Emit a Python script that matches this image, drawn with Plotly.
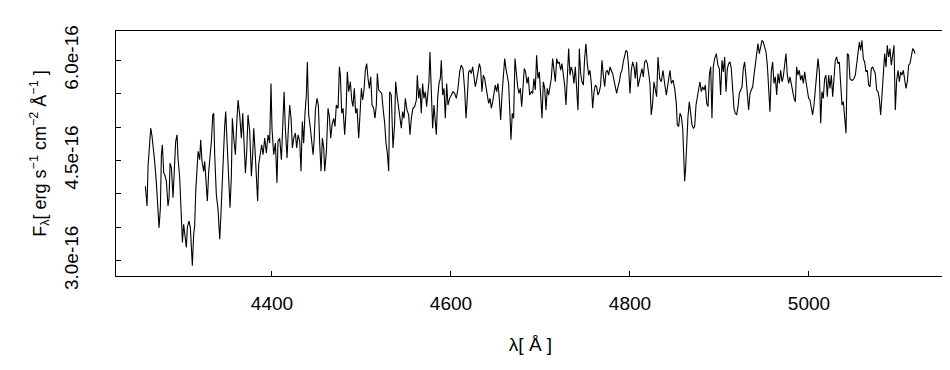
import plotly.graph_objects as go

# Wavelength (Angstrom) and flux (1e-16 erg s^-1 cm^-2 A^-1)
wave_a = [
    4258.5, 4260.4, 4261.5, 4263.4, 4264.5, 4266.0, 4267.1, 4268.9, 4270.8, 4272.7,
    4273.8, 4275.3, 4276.4, 4277.5, 4279.0, 4280.1, 4282.0, 4283.8, 4285.0, 4286.1,
    4287.6, 4289.4, 4290.5, 4292.4, 4293.9, 4295.0, 4296.9, 4298.7, 4299.9, 4301.3,
    4302.5, 4304.3, 4305.4, 4307.3, 4308.8, 4309.9, 4311.0, 4312.5, 4313.6, 4314.8,
    4316.2, 4317.4, 4319.2, 4320.3, 4321.8, 4323.7, 4324.8, 4326.7, 4327.8, 4329.3,
    4330.8, 4332.3, 4333.8, 4334.9, 4336.0, 4337.8, 4339.7, 4341.6, 4342.7, 4344.2,
    4345.7, 4347.2, 4348.3, 4349.8, 4351.6, 4353.1, 4354.6, 4355.7, 4357.6, 4359.1,
    4360.6, 4362.1, 4363.9, 4365.8, 4367.3, 4368.8, 4370.3, 4371.7, 4373.2, 4375.1,
    4377.0, 4378.4, 4379.6, 4381.1, 4382.5, 4384.0, 4385.1, 4387.0, 4388.5, 4390.0,
    4391.9, 4393.7, 4395.6, 4397.4, 4398.9, 4400.0, 4401.9, 4403.8, 4405.6, 4406.7,
    4408.6, 4410.5, 4412.0, 4413.5, 4414.9, 4416.8, 4418.3, 4419.8, 4421.3, 4422.8,
    4424.3, 4426.1, 4427.6, 4429.1, 4431.0, 4432.4, 4433.9, 4435.4, 4436.9, 4438.4,
    4439.5, 4441.0, 4442.9, 4444.4, 4445.9, 4447.0, 4448.5, 4450.3, 4451.8, 4453.3,
    4454.8, 4456.3, 4457.8, 4458.9, 4460.8, 4462.6, 4464.1, 4465.6, 4467.1, 4468.9,
    4470.4, 4471.9, 4473.8, 4475.3, 4476.4, 4477.9, 4479.4, 4481.2, 4482.7, 4484.2,
    4485.7, 4487.6, 4489.1, 4490.5, 4492.0, 4493.5, 4495.0, 4496.9, 4498.4, 4499.9,
    4501.3, 4502.8, 4504.3, 4505.8, 4507.3, 4508.8, 4510.3, 4511.8, 4513.6, 4515.1,
    4516.6, 4517.7, 4519.2, 4521.1, 4522.6, 4524.1, 4525.9, 4527.4, 4528.9, 4530.4,
]
flux_a = [
    4.115, 3.818, 4.413, 4.760, 4.983, 4.859, 4.661, 4.487, 4.165, 3.669,
    3.495, 3.793, 4.586, 4.735, 4.314, 4.289, 4.190, 3.818, 3.942, 4.462,
    4.388, 3.942, 4.214, 4.785, 4.884, 4.537, 4.239, 3.495, 3.272, 3.545,
    3.421, 3.198, 3.495, 3.594, 3.495, 3.049, 2.925, 3.396, 3.520, 4.041,
    4.289, 4.636, 4.512, 4.810, 4.487, 4.338, 4.487, 4.115, 3.892, 4.338,
    4.537, 4.785, 5.182, 5.206, 4.586, 3.991, 3.768, 3.322, 3.619, 4.090,
    4.686, 5.033, 5.231, 4.785, 4.388, 3.793, 4.264, 5.132, 4.785, 4.586,
    5.058, 5.405, 5.182, 4.834, 5.206, 4.735, 4.314, 4.611, 5.182, 4.934,
    4.264, 4.586, 4.983, 4.636, 4.214, 3.892, 4.438, 4.611, 4.735, 4.586,
    4.834, 4.611, 4.884, 4.760, 5.653, 4.983, 4.586, 4.760, 4.165, 4.785,
    4.834, 4.512, 5.058, 5.529, 4.983, 4.537, 4.983, 5.330, 5.132, 4.686,
    4.834, 4.909, 4.686, 4.884, 4.785, 4.338, 5.082, 4.760, 5.206, 5.479,
    5.975, 5.182, 4.983, 4.760, 4.586, 4.785, 5.256, 5.430, 5.330, 4.760,
    4.338, 4.834, 4.686, 4.338, 4.636, 5.281, 5.157, 4.834, 5.033, 5.132,
    5.008, 5.330, 5.281, 5.901, 5.777, 5.206, 5.281, 4.884, 5.231, 5.826,
    5.529, 5.678, 5.405, 5.306, 5.579, 5.206, 5.281, 4.834, 5.132, 5.579,
    5.405, 5.554, 5.851, 5.950, 5.727, 5.579, 5.752, 5.330, 5.281, 5.132,
    5.330, 5.802, 5.554, 5.529, 5.504, 5.281, 5.058, 4.760, 4.611, 4.338,
]

wave_b = [
    4531.5, 4533.3, 4535.2, 4537.0, 4538.2, 4539.7, 4541.1, 4542.6, 4544.5, 4546.0,
    4547.5, 4549.0, 4550.8, 4552.7, 4554.2, 4555.7, 4557.5, 4559.4, 4561.3, 4562.4,
    4563.9, 4565.4, 4566.8, 4568.3, 4569.8, 4571.3, 4572.8, 4574.3, 4575.4, 4576.5,
    4578.0, 4579.5, 4581.0, 4582.5, 4583.6, 4585.1, 4586.6, 4588.1, 4589.2, 4590.7,
    4592.2, 4593.7, 4595.2, 4596.6, 4598.5, 4600.4, 4602.2, 4604.1, 4606.0, 4607.8,
    4609.7, 4611.5, 4613.4, 4615.3, 4616.8, 4618.2, 4619.7, 4621.2, 4622.7, 4624.2,
    4625.7, 4627.2, 4628.7, 4630.2, 4631.7, 4633.1, 4634.6, 4636.1, 4637.6, 4639.1,
    4640.6, 4642.1, 4643.6, 4645.1, 4646.6, 4648.0, 4649.5, 4651.0, 4652.5, 4654.0,
    4655.5, 4657.0, 4658.5, 4660.0, 4661.4, 4662.9, 4664.4, 4665.9, 4667.0, 4668.5,
    4670.0, 4671.5, 4673.0, 4674.5, 4676.0, 4677.5, 4679.0, 4680.4, 4681.9, 4683.4,
    4684.9, 4686.4, 4687.9, 4689.8, 4691.2, 4692.7, 4694.2, 4695.7, 4697.2, 4698.7,
    4700.2, 4701.7, 4703.2, 4704.7, 4706.1, 4707.6, 4709.1, 4710.6, 4712.1, 4713.6,
    4715.1, 4716.6, 4718.1, 4719.5, 4721.0, 4722.5, 4724.0, 4725.5, 4727.0, 4728.5,
    4730.0, 4731.5, 4733.0, 4734.4, 4735.9, 4737.4, 4738.9, 4740.4, 4741.9, 4743.4,
    4744.9, 4746.4, 4747.9, 4749.3, 4750.8, 4752.3, 4753.8, 4755.3, 4756.8, 4758.3,
    4759.8, 4761.3, 4762.8, 4764.2, 4765.7, 4767.2, 4768.7, 4770.2, 4771.7, 4773.2,
    4774.7, 4776.2, 4777.7, 4779.1, 4780.6, 4782.1, 4783.6, 4785.1, 4786.6, 4788.1,
    4789.6, 4791.1, 4792.5, 4794.0, 4795.5, 4797.0, 4798.5, 4800.0, 4801.5, 4803.0,
    4804.5, 4806.0, 4807.4, 4808.9, 4810.4, 4811.9, 4813.4, 4814.9, 4816.4, 4817.9,
    4819.4, 4820.9, 4822.3, 4823.8, 4825.3, 4826.8, 4828.3, 4829.8,
]
flux_b = [
    5.529, 5.479, 4.686, 5.033, 5.678, 5.479, 5.330, 5.157, 4.983, 5.231,
    5.132, 5.430, 5.256, 5.182, 4.884, 5.132, 5.281, 5.306, 5.405, 5.777,
    5.430, 5.579, 5.206, 5.653, 5.430, 5.529, 5.306, 5.529, 5.678, 6.124,
    5.454, 4.983, 5.330, 5.033, 4.884, 5.430, 5.653, 5.727, 6.000, 5.479,
    5.579, 5.132, 5.653, 5.330, 5.430, 5.479, 5.529, 5.504, 5.430, 5.579,
    5.826, 5.926, 5.876, 5.554, 5.132, 5.430, 5.826, 5.851, 5.802, 5.901,
    5.777, 5.603, 5.703, 5.826, 5.950, 5.876, 5.529, 5.777, 5.727, 5.603,
    5.479, 5.355, 5.430, 5.281, 5.380, 5.479, 5.628, 5.529, 5.653, 5.430,
    5.107, 5.479, 5.727, 6.025, 5.876, 5.752, 5.653, 5.182, 4.810, 5.206,
    5.132, 6.025, 5.777, 5.603, 5.504, 5.579, 5.306, 5.653, 5.876, 5.826,
    5.653, 5.752, 5.479, 5.529, 5.504, 5.727, 5.554, 6.074, 5.727, 5.826,
    5.554, 5.132, 5.678, 5.579, 5.256, 5.579, 5.479, 5.603, 5.727, 6.025,
    5.826, 5.678, 6.025, 5.950, 5.975, 5.851, 5.950, 5.802, 5.628, 5.330,
    5.826, 6.174, 5.777, 5.901, 5.826, 5.653, 5.901, 5.628, 5.256, 6.174,
    5.802, 5.678, 5.628, 6.025, 6.248, 5.950, 5.777, 5.851, 5.653, 5.281,
    5.529, 5.628, 5.603, 5.479, 5.529, 5.628, 6.000, 5.777, 5.603, 5.826,
    5.851, 5.777, 5.901, 5.851, 5.802, 5.703, 5.603, 5.504, 5.603, 5.678,
    5.802, 5.851, 5.975, 6.074, 6.149, 6.124, 5.901, 5.504, 5.851, 5.975,
    5.901, 5.727, 5.975, 5.603, 5.703, 5.802, 5.876, 5.752, 5.975, 6.000,
    5.950, 5.802, 5.653, 5.182, 5.355, 5.678, 5.554, 5.454,
]

wave_c = [
    4831.3, 4833.2, 4835.0, 4836.9, 4838.7, 4840.6, 4841.7, 4843.2, 4844.7, 4846.2,
    4848.1, 4849.9, 4851.8, 4852.9, 4854.4, 4855.9, 4857.4, 4858.9, 4860.0, 4861.1,
    4862.2, 4863.3, 4864.8, 4866.3, 4867.8, 4869.3, 4870.8, 4872.3, 4873.8, 4875.3,
    4876.7, 4878.2, 4879.7, 4881.2, 4882.7, 4884.2, 4885.7, 4887.2, 4888.7, 4890.2,
    4891.6, 4893.1, 4894.6, 4896.5, 4898.3, 4899.8, 4901.3, 4902.8, 4904.3, 4905.8,
    4907.3, 4908.8, 4910.3, 4911.8, 4913.2, 4914.7, 4916.2, 4917.7, 4919.2, 4920.7,
    4922.2, 4923.7, 4925.2, 4926.6, 4928.1, 4929.6, 4931.1, 4932.6, 4934.1, 4935.6,
    4937.1, 4938.6, 4940.1, 4941.5, 4943.0, 4944.5, 4946.0, 4947.5, 4949.0, 4950.5,
    4952.0, 4953.5, 4955.0, 4956.4, 4957.9, 4959.4, 4960.9, 4962.4, 4963.9, 4965.4,
    4966.9, 4968.4, 4969.9, 4971.3, 4972.8, 4974.3, 4975.8, 4977.3, 4978.8, 4980.3,
    4981.8, 4983.3, 4984.8, 4986.2, 4987.7, 4989.2, 4990.7, 4992.2, 4993.7, 4995.2,
    4996.7, 4998.2, 4999.6, 5001.1, 5002.6, 5004.1, 5005.6, 5007.1, 5008.6, 5010.1,
    5011.6, 5013.1, 5014.5, 5016.0, 5017.5, 5019.0, 5020.5, 5022.0, 5023.5, 5025.0,
    5026.5, 5027.9, 5029.4, 5030.9, 5032.4, 5033.9, 5035.4, 5036.9, 5038.4, 5039.9,
    5041.4, 5042.9, 5044.3, 5045.8, 5047.3, 5048.8, 5050.3, 5051.8, 5053.3, 5054.8,
    5056.3, 5057.7, 5059.2, 5060.7, 5062.2, 5063.7, 5065.2, 5066.7, 5068.2, 5069.7,
    5071.2, 5072.6, 5074.1, 5075.6, 5077.1, 5078.6, 5080.1, 5081.6, 5083.1, 5084.6,
    5086.1, 5087.5, 5089.0, 5090.5, 5092.0, 5093.5, 5095.0, 5096.5, 5098.0, 5099.5,
    5101.0, 5102.4, 5103.9, 5105.4, 5106.9, 5108.4, 5109.9, 5111.4, 5112.9, 5114.4,
    5115.9, 5117.3, 5118.5,
]
flux_c = [
    6.050, 5.727, 5.678, 5.851, 5.653, 5.479, 5.579, 5.727, 5.851, 5.653,
    5.703, 5.579, 5.355, 5.033, 5.008, 5.206, 5.157, 4.983, 4.388, 4.190,
    4.388, 4.859, 5.157, 5.380, 5.157, 5.033, 4.983, 5.008, 5.330, 5.430,
    5.554, 5.678, 5.529, 5.603, 5.554, 5.628, 5.355, 5.306, 5.777, 5.901,
    5.132, 5.901, 6.025, 6.099, 5.926, 5.876, 5.479, 6.000, 5.826, 6.050,
    5.529, 5.876, 5.950, 5.975, 5.876, 5.479, 5.281, 5.206, 5.182, 5.306,
    5.504, 5.554, 5.603, 5.876, 5.975, 5.752, 5.479, 5.256, 5.504, 5.554,
    5.603, 5.777, 5.950, 6.149, 6.248, 6.099, 6.223, 6.297, 6.273, 6.198,
    6.124, 5.926, 5.628, 5.231, 5.826, 5.975, 5.653, 5.752, 5.479, 5.802,
    5.653, 5.851, 5.678, 5.752, 5.926, 6.099, 5.777, 5.653, 5.752, 5.628,
    5.529, 5.430, 5.380, 5.901, 5.777, 5.851, 5.703, 5.777, 5.653, 5.826,
    5.678, 5.504, 5.430, 5.405, 5.281, 5.182, 5.330, 5.554, 5.752, 6.025,
    5.826, 5.058, 5.529, 5.430, 5.727, 5.777, 5.454, 5.777, 5.579, 5.777,
    5.454, 5.678, 6.000, 6.050, 5.950, 5.975, 5.579, 5.330, 5.380, 5.058,
    4.909, 6.099, 6.074, 5.727, 5.703, 5.703, 5.727, 5.777, 5.950, 6.174,
    6.273, 6.149, 6.297, 6.025, 5.975, 5.826, 5.851, 5.628, 5.603, 5.876,
    5.901, 5.851, 5.802, 5.554, 5.529, 5.430, 5.182, 5.479, 5.901, 6.099,
    5.901, 6.223, 6.050, 6.174, 5.926, 6.050, 6.223, 5.256, 5.703, 5.851,
    5.678, 5.826, 5.777, 5.851, 5.703, 5.579, 5.678, 5.926, 5.950, 6.074,
    6.174, 6.149, 6.099,
]

x_ticks = [4400, 4600, 4800, 5000]
y_ticks = [3.0e-16, 3.5e-16, 4.0e-16, 4.5e-16, 5.0e-16, 5.5e-16, 6.0e-16]
y_tick_text = ["3.0e-16", "", "", "4.5e-16", "", "", "6.0e-16"]

unit = 1e-16
wave = wave_a + wave_b + wave_c
flux = [v * unit for v in (flux_a + flux_b + flux_c)]

FONT = "Liberation Sans, Arial, Helvetica, sans-serif"

fig = go.Figure(
    go.Scatter(x=wave, y=flux, mode="lines",
               line=dict(color="black", width=1.1), hoverinfo="skip")
)

fig.update_layout(
    width=950, height=370,
    margin=dict(l=108, r=13, t=23, b=102, autoexpand=False),
    paper_bgcolor="white", plot_bgcolor="white",
    showlegend=False,
    font=dict(family=FONT, size=19, color="black"),
)

fig.update_xaxes(
    automargin=False,
    range=[4225.7, 5152],
    tickvals=x_ticks, ticktext=[str(t) for t in x_ticks],
    ticks="inside", ticklen=5, tickwidth=1, tickcolor="black",
    showline=True, linecolor="black", linewidth=1, mirror=True,
    showgrid=False, zeroline=False,
    ticklabelstandoff=10,
    title=dict(text="λ[ Å ]", standoff=24, font=dict(size=19)),
)
fig.update_yaxes(
    automargin=False,
    range=[2.771e-16, 6.438e-16],
    tickvals=y_ticks, ticktext=y_tick_text, tickangle=-90,
    ticks="inside", ticklen=5, tickwidth=1, tickcolor="black",
    showline=True, linecolor="black", linewidth=1, mirror=True,
    showgrid=False, zeroline=False,
    ticklabelstandoff=29,
    title=dict(text="F<sub>λ</sub>[ erg s<sup>−1</sup> cm<sup>−2</sup> Å<sup>−1</sup> ]",
               standoff=10, font=dict(size=18)),
)

fig.write_html("out.html")
